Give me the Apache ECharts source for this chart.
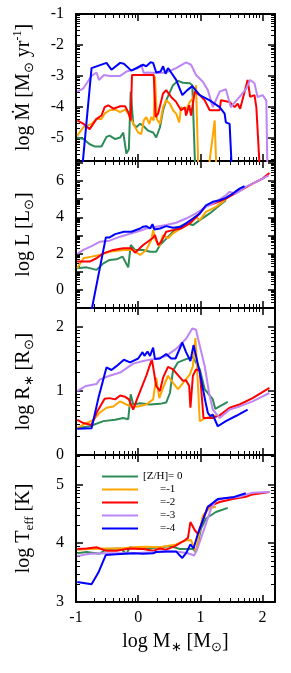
<!DOCTYPE html>
<html><head><meta charset="utf-8">
<script src="https://cdn.jsdelivr.net/npm/echarts@6/dist/echarts.min.js"></script>
<style>html,body{margin:0;padding:0;background:#fff}#c{width:291px;height:673px}</style>
</head><body><div id="c"></div>
<script>
// ---- data: [log M*, value] ----
const seriesNames = ['[Z/H]= 0', '=-1', '=-2', '=-3', '=-4'];
const seriesColors = ['#2e8b57', '#ffa500', '#ff0000', '#bd85f5', '#0000ff'];

// Panel 1: log Mdot
const mdotZ0 = [[-0.98,-4.99],[-0.88,-5.04],[-0.78,-5.21],[-0.70,-5.28],[-0.59,-5.28],[-0.51,-4.97],[-0.46,-4.93],[-0.37,-5.04],[-0.29,-4.99],[-0.24,-4.83],[-0.19,-5.51],[-0.15,-5.37],[-0.12,-3.51],[-0.08,-4.55],[-0.03,-4.66],[0.03,-4.55],[0.08,-4.61],[0.16,-4.77],[0.24,-4.83],[0.29,-4.99],[0.35,-4.66],[0.40,-4.11],[0.45,-3.79],[0.56,-3.30],[0.64,-3.16],[0.72,-3.22],[0.83,-3.24],[0.87,-3.30],[0.92,-6.2]];
const mdotZ1 = [[-0.98,-4.93],[-0.88,-4.66],[-0.75,-4.55],[-0.67,-4.39],[-0.59,-4.39],[-0.54,-4.22],[-0.46,-4.11],[-0.37,-4.09],[-0.29,-4.17],[-0.21,-4.09],[-0.13,-4.28],[-0.08,-4.55],[0.0,-4.83],[0.05,-4.88],[0.09,-4.44],[0.13,-4.33],[0.18,-4.55],[0.21,-4.33],[0.25,-4.44],[0.27,-3.02],[0.30,-4.40],[0.35,-4.55],[0.40,-4.01],[0.45,-3.79],[0.51,-3.90],[0.56,-4.11],[0.61,-4.22],[0.66,-4.50],[0.69,-4.01],[0.77,-4.11],[0.83,-3.84],[0.88,-3.73],[0.93,-3.30],[0.97,-6.2]];
const mdotZ1b = [[1.12,-6.2],[1.23,-4.44],[1.26,-6.2]];
const mdotZ2 = [[-0.98,-4.44],[-0.88,-4.55],[-0.78,-4.72],[-0.67,-4.39],[-0.59,-4.28],[-0.54,-4.01],[-0.48,-3.95],[-0.40,-4.06],[-0.29,-3.98],[-0.21,-3.98],[-0.16,-4.17],[-0.12,-4.44],[-0.10,-2.97],[0.25,-2.97],[0.28,-4.33],[0.32,-4.22],[0.40,-3.57],[0.45,-3.46],[0.53,-3.68],[0.61,-3.84],[0.69,-4.11],[0.75,-4.01],[0.77,-4.28],[0.82,-3.95],[0.85,-4.28],[0.91,-3.51],[0.99,-3.62],[1.07,-3.79],[1.15,-4.11],[1.31,-4.11],[1.33,-3.79],[1.47,-3.84],[1.55,-4.01],[1.60,-3.90],[1.64,-4.06],[1.76,-3.13],[1.80,-3.68],[1.87,-3.62],[1.90,-4.01],[1.96,-6.2]];
const mdotZ3 = [[-0.98,-3.51],[-0.88,-3.40],[-0.75,-3.0],[-0.67,-2.89],[-0.63,-3.13],[-0.55,-2.97],[-0.46,-3.0],[-0.29,-3.0],[-0.19,-2.86],[-0.08,-2.80],[0.0,-2.75],[0.05,-2.64],[0.09,-2.91],[0.16,-2.89],[0.29,-2.91],[0.45,-2.89],[0.61,-2.75],[0.77,-2.56],[0.85,-2.64],[0.93,-2.97],[1.04,-3.19],[1.12,-3.46],[1.20,-4.01],[1.31,-3.51],[1.41,-3.43],[1.49,-4.01],[1.63,-3.68],[1.74,-3.40],[1.80,-3.13],[1.87,-3.24],[1.92,-3.68],[2.00,-3.62],[2.06,-3.79],[2.08,-6.2]];
const mdotZ4 = [[-0.91,-6.2],[-0.75,-2.75],[-0.51,-2.58],[-0.43,-2.80],[-0.29,-2.58],[-0.23,-2.61],[-0.11,-2.83],[0.08,-2.64],[0.13,-2.69],[0.20,-2.56],[0.24,-2.58],[0.29,-2.89],[0.36,-2.86],[0.40,-2.69],[0.44,-2.93],[0.48,-2.75],[0.53,-2.89],[0.61,-3.13],[0.71,-3.62],[0.79,-3.46],[0.87,-3.33],[0.99,-3.62],[1.15,-3.79],[1.31,-4.01],[1.39,-4.22],[1.41,-4.50],[1.47,-4.55],[1.51,-6.2]];

// Panel 2: log L
const lumZ0 = [[-0.98,1.19],[-0.83,1.24],[-0.67,1.10],[-0.56,1.46],[-0.46,1.65],[-0.35,1.68],[-0.25,1.83],[-0.21,1.56],[-0.16,1.24],[-0.12,2.47],[-0.05,2.20],[0.08,2.20],[0.19,2.10],[0.29,2.10],[0.35,2.47],[0.43,2.74],[0.51,3.02],[0.61,3.38],[0.77,3.66],[0.88,3.57],[0.99,3.84],[1.15,4.21],[1.31,4.66],[1.41,4.94]];
const lumZ1 = [[-0.98,1.19],[-0.88,1.74],[-0.75,1.83],[-0.62,1.92],[-0.46,2.10],[-0.24,2.20],[-0.08,2.20],[0.03,1.92],[0.13,2.20],[0.21,2.75],[0.24,3.29],[0.28,2.75],[0.34,2.41],[0.40,3.02],[0.48,2.84],[0.56,3.11],[0.69,3.38],[0.86,3.75],[0.93,4.02],[0.99,3.84],[1.09,4.30],[1.25,4.57],[1.36,4.85],[1.44,5.09]];
const lumZ2 = [[-0.98,1.56],[-0.78,1.56],[-0.67,1.74],[-0.56,2.01],[-0.40,2.20],[-0.24,2.29],[-0.11,2.29],[-0.05,2.05],[0.08,2.47],[0.23,2.84],[0.27,3.02],[0.32,2.47],[0.37,2.65],[0.45,3.20],[0.56,3.29],[0.69,3.38],[0.83,3.66],[0.99,4.21],[1.09,4.61],[1.25,4.79],[1.41,5.03],[1.63,5.45],[1.84,5.85],[2.00,6.13],[2.11,6.44]];
const lumZ3 = [[-0.98,1.98],[-0.88,2.20],[-0.75,2.41],[-0.62,2.65],[-0.46,2.71],[-0.29,2.93],[-0.08,3.15],[0.03,3.26],[0.13,3.38],[0.29,3.48],[0.45,3.57],[0.61,3.70],[0.77,3.93],[0.93,4.21],[1.09,4.57],[1.25,4.85],[1.41,5.21],[1.47,5.40],[1.57,5.30],[1.73,5.67],[1.84,5.85],[2.00,6.13],[2.10,6.31]];
const lumZ4 = [[-0.76,-1.3],[-0.52,2.89],[-0.46,2.89],[-0.37,3.07],[-0.23,3.20],[-0.11,3.20],[0.03,3.38],[0.08,3.48],[0.13,3.51],[0.19,3.38],[0.23,3.62],[0.26,3.33],[0.35,3.38],[0.45,3.51],[0.56,3.42],[0.69,3.48],[0.77,3.66],[0.88,3.93],[0.99,4.21],[1.09,4.66],[1.20,4.85],[1.31,4.94],[1.41,5.07],[1.52,5.30],[1.63,5.58],[1.71,5.71]];

// Panel 3: log R*
const radZ0 = [[-0.98,0.42],[-0.78,0.45],[-0.56,0.53],[-0.37,0.55],[-0.24,0.58],[-0.16,0.56],[-0.12,0.95],[-0.08,0.79],[0.03,0.81],[0.19,0.79],[0.35,0.80],[0.45,0.82],[0.51,0.97],[0.56,1.32],[0.64,1.45],[0.77,1.50],[0.88,1.53],[0.99,1.34],[1.07,1.03],[1.20,0.87],[1.24,0.72],[1.31,0.76],[1.44,0.83]];
const radZ1 = [[-0.98,0.42],[-0.89,0.47],[-0.72,0.55],[-0.62,0.66],[-0.51,0.74],[-0.40,0.76],[-0.29,0.84],[-0.19,0.79],[-0.11,0.76],[0.0,0.76],[0.13,0.79],[0.24,0.87],[0.29,1.21],[0.34,0.89],[0.40,1.05],[0.48,1.24],[0.56,1.13],[0.64,1.03],[0.75,1.16],[0.83,1.26],[0.88,1.39],[0.92,1.83],[0.94,1.50],[0.99,0.53],[1.09,0.58],[1.25,0.62]];
const radZ2 = [[-0.98,0.55],[-0.88,0.50],[-0.75,0.47],[-0.67,0.66],[-0.54,0.88],[-0.46,0.89],[-0.37,0.87],[-0.29,0.93],[-0.21,0.91],[-0.15,0.87],[-0.08,0.71],[-0.02,0.87],[0.13,1.24],[0.22,1.50],[0.29,1.08],[0.35,1.0],[0.40,1.21],[0.48,1.38],[0.56,1.34],[0.72,1.16],[0.77,1.17],[0.82,1.08],[0.84,0.74],[0.88,1.24],[0.93,1.34],[0.99,1.32],[1.05,0.58],[1.20,0.58],[1.31,0.62],[1.47,0.74],[1.63,0.79],[1.84,0.89],[2.11,1.05]];
const radZ3 = [[-0.98,1.0],[-0.84,1.08],[-0.67,1.11],[-0.62,1.18],[-0.46,1.24],[-0.29,1.29],[-0.08,1.43],[0.08,1.47],[0.24,1.50],[0.45,1.55],[0.61,1.66],[0.77,1.82],[0.87,1.98],[0.93,1.96],[0.99,1.71],[1.07,1.39],[1.14,0.97],[1.20,0.71],[1.31,0.58],[1.47,0.71],[1.63,0.76],[1.84,0.84],[2.11,0.97]];
const radZ4 = [[-0.98,0.41],[-0.75,0.42],[-0.64,0.89],[-0.51,1.37],[-0.43,1.33],[-0.35,1.39],[-0.23,1.49],[-0.13,1.45],[0.0,1.51],[0.07,1.61],[0.10,1.55],[0.15,1.62],[0.19,1.55],[0.24,1.68],[0.27,1.50],[0.35,1.51],[0.45,1.58],[0.53,1.51],[0.60,1.51],[0.71,1.76],[0.77,1.61],[0.84,1.47],[0.89,1.72],[0.93,1.55],[0.99,1.29],[1.08,0.84],[1.12,0.66],[1.16,0.61],[1.20,0.63],[1.28,0.45],[1.41,0.53],[1.57,0.61],[1.76,0.71]];

// Panel 4: log Teff
const teffZ0 = [[-0.98,3.83],[-0.83,3.85],[-0.62,3.82],[-0.51,3.90],[-0.29,3.91],[-0.19,3.82],[-0.13,3.93],[0.03,3.90],[0.24,3.92],[0.35,3.93],[0.51,3.95],[0.67,3.90],[0.88,3.90],[0.93,3.85],[1.01,4.25],[1.09,4.42],[1.25,4.53],[1.44,4.60]];
const teffZ1 = [[-0.98,3.89],[-0.78,3.90],[-0.56,3.91],[-0.29,3.91],[-0.08,3.93],[0.13,3.94],[0.35,3.93],[0.61,3.98],[0.77,4.05],[0.85,4.05],[0.93,3.85],[0.99,4.22],[1.04,4.47],[1.15,4.60],[1.25,4.62]];
const teffZ2 = [[-0.98,3.90],[-0.83,3.91],[-0.67,3.93],[-0.59,3.90],[-0.51,3.87],[-0.35,3.87],[-0.13,3.91],[0.08,3.90],[0.24,3.87],[0.35,3.91],[0.45,3.89],[0.59,3.95],[0.75,4.05],[0.80,4.09],[0.84,4.36],[0.91,4.22],[0.96,4.16],[1.04,4.39],[1.12,4.62],[1.31,4.70],[1.52,4.75],[1.73,4.79],[1.84,4.83],[2.11,4.87]];
const teffZ3 = [[-0.98,3.78],[-0.78,3.82],[-0.51,3.83],[-0.08,3.83],[0.45,3.86],[0.67,3.85],[0.80,3.83],[0.90,3.79],[0.97,3.96],[1.07,4.27],[1.17,4.58],[1.25,4.73],[1.41,4.77],[1.63,4.79],[1.84,4.86],[2.11,4.87]];
const teffZ4 = [[-0.98,3.34],[-0.75,3.30],[-0.64,3.50],[-0.52,3.80],[-0.35,3.81],[-0.08,3.83],[0.08,3.82],[0.24,3.83],[0.29,3.85],[0.45,3.86],[0.61,3.86],[0.67,3.79],[0.71,3.75],[0.77,3.83],[0.84,3.98],[0.89,3.91],[0.96,4.16],[1.04,4.39],[1.12,4.62],[1.28,4.75],[1.52,4.78],[1.73,4.85]];

// axes
const xMin = -1, xMax = 2.2, xTicks = [-1, 0, 1, 2];
const yRanges = [[-5.75, -1], [-1, 7.1], [0, 2.3], [3, 5.5]];
const yMajor = [[-5, -4, -3, -2, -1], [-1, 0, 1, 2, 3, 4, 5, 6, 7], [0, 1, 2], [3, 4, 5]];
const yLabels = [[-5, -4, -3, -2, -1], [0, 2, 4, 6], [0, 1, 2], [3, 4, 5]];
const yNames = ['log Ṁ [M{s|⊙} yr{p|-1}]', 'log L [L{s|⊙}]', 'log R{s|∗} [R{s|⊙}]', 'log T{s|eff} [K]'];
const xName = 'log M{s|∗} [M{s|⊙}]';

const panelData = [
  [mdotZ0, mdotZ1, mdotZ2, mdotZ3, mdotZ4],
  [lumZ0, lumZ1, lumZ2, lumZ3, lumZ4],
  [radZ0, radZ1, radZ2, radZ3, radZ4],
  [teffZ0, teffZ1, teffZ2, teffZ3, teffZ4]
];

function logMinor(lo, hi) {
  const out = [];
  for (let n = Math.floor(lo) - 1; n <= Math.ceil(hi); n++) {
    for (let k = 2; k <= 9; k++) {
      const v = n + Math.log10(k);
      if (v > lo && v < hi) out.push(+v.toFixed(4));
    }
  }
  return out;
}

const FONT = 'Liberation Serif';
const gridTops = [14, 161, 308, 455];
const gridH = 147;
const rich = {
  s: { fontFamily: FONT, fontSize: 13, lineHeight: 13, verticalAlign: 'bottom', color: '#000' },
  p: { fontFamily: FONT, fontSize: 12, lineHeight: 12, verticalAlign: 'top', color: '#000' }
};

const grid = [], xAxis = [], yAxis = [], series = [];
const lineAx = { show: true, onZero: false, lineStyle: { color: '#000', width: 2 } };
const noLine = { show: false, onZero: false };

for (let i = 0; i < 4; i++) {
  grid.push({ left: 76, width: 199, top: gridTops[i], height: gridH });
  const xMinorV = logMinor(xMin, xMax);
  const last = i === 3;
  const xBase = { type: 'value', gridIndex: i, min: xMin, max: xMax, splitLine: { show: false }, axisPointer: { show: false } };
  xAxis.push(Object.assign({}, xBase, {
    position: 'bottom', axisLine: lineAx,
    axisTick: { inside: true, length: 7, customValues: xTicks, lineStyle: { color: '#000', width: 1.5 } },
    axisLabel: { show: last, customValues: xTicks, margin: 8, fontFamily: FONT, fontSize: 16, color: '#000' },
    name: last ? xName : '', nameLocation: 'middle', nameGap: 28,
    nameTextStyle: { fontFamily: FONT, fontSize: 20, color: '#000', lineHeight: 24, rich: rich }
  }));
  xAxis.push(Object.assign({}, xBase, {
    position: 'bottom', axisLine: noLine,
    axisTick: { inside: true, length: 4, customValues: xMinorV, lineStyle: { color: '#000', width: 1 } },
    axisLabel: { show: false }
  }));
  xAxis.push(Object.assign({}, xBase, {
    position: 'top', axisLine: lineAx,
    axisTick: { inside: true, length: 7, customValues: xTicks, lineStyle: { color: '#000', width: 1.5 } },
    axisLabel: { show: false }
  }));
  xAxis.push(Object.assign({}, xBase, {
    position: 'top', axisLine: noLine,
    axisTick: { inside: true, length: 4, customValues: xMinorV, lineStyle: { color: '#000', width: 1 } },
    axisLabel: { show: false }
  }));

  const [lo, hi] = yRanges[i];
  const yMinorV = logMinor(lo, hi);
  const yBase = { type: 'value', gridIndex: i, min: lo, max: hi, splitLine: { show: false }, axisPointer: { show: false } };
  yAxis.push(Object.assign({}, yBase, {
    position: 'left', axisLine: lineAx,
    axisTick: { inside: true, length: 7, customValues: yMajor[i], lineStyle: { color: '#000', width: 1.5 } },
    axisLabel: { customValues: yLabels[i], margin: 12, fontFamily: FONT, fontSize: 16, color: '#000' },
    name: yNames[i], nameLocation: 'middle', nameGap: 40, nameRotate: 90,
    nameTextStyle: { fontFamily: FONT, fontSize: 20, color: '#000', lineHeight: 24, rich: rich }
  }));
  yAxis.push(Object.assign({}, yBase, {
    position: 'left', axisLine: noLine,
    axisTick: { inside: true, length: 4, customValues: yMinorV, lineStyle: { color: '#000', width: 1 } },
    axisLabel: { show: false }
  }));
  yAxis.push(Object.assign({}, yBase, {
    position: 'right', axisLine: lineAx,
    axisTick: { inside: true, length: 7, customValues: yMajor[i], lineStyle: { color: '#000', width: 1.5 } },
    axisLabel: { show: false }
  }));
  yAxis.push(Object.assign({}, yBase, {
    position: 'right', axisLine: noLine,
    axisTick: { inside: true, length: 4, customValues: yMinorV, lineStyle: { color: '#000', width: 1 } },
    axisLabel: { show: false }
  }));

  panelData[i].forEach((d, j) => {
    series.push({
      type: 'line', name: seriesNames[j], data: d,
      xAxisIndex: i * 4, yAxisIndex: i * 4,
      symbol: 'none', showSymbol: false, clip: true, animation: false,
      lineStyle: { color: seriesColors[j], width: 2 }, itemStyle: { color: seriesColors[j] },
      z: 2 + j
    });
  });
}
series.push({
  type: 'line', name: seriesNames[1], data: mdotZ1b, xAxisIndex: 0, yAxisIndex: 0,
  symbol: 'none', showSymbol: false, clip: true, animation: false,
  lineStyle: { color: seriesColors[1], width: 2 }, itemStyle: { color: seriesColors[1] }, z: 3
});

const chart = echarts.init(document.getElementById('c'), null, { renderer: 'canvas' });
chart.setOption({
  animation: false,
  backgroundColor: '#fff',
  grid, xAxis, yAxis, series,
  legend: {
    data: seriesNames, orient: 'vertical', left: 97, top: 466,
    itemWidth: 36, itemHeight: 10, itemGap: 2,
    icon: 'path://M0,4L36,4L36,6L0,6Z',
    textStyle: { fontFamily: FONT, fontSize: 11, color: '#000', rich: { i: { width: 17 } } },
    formatter: n => n.charAt(0) === '[' ? n : '{i|}' + n,
    selectedMode: false
  }
});
</script></body></html>
